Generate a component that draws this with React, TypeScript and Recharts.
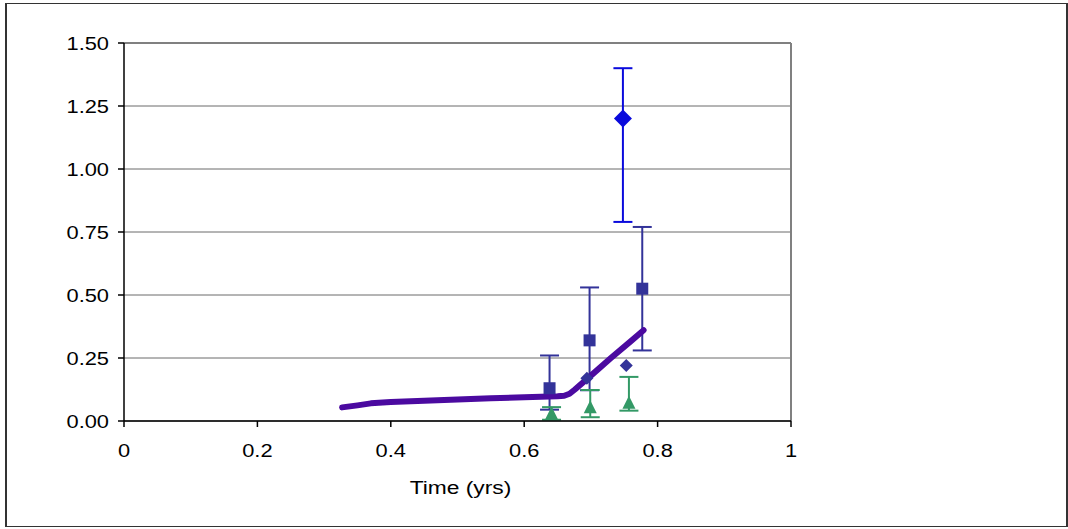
import React from 'react';
import {
  ComposedChart,
  Scatter,
  XAxis,
  YAxis,
  CartesianGrid,
  ErrorBar,
  ReferenceLine,
} from 'recharts';

// x ticks and y ticks as printed on the axes
const xTicks = [0, 0.2, 0.4, 0.6, 0.8, 1];
const yTicks = [0, 0.25, 0.5, 0.75, 1.0, 1.25, 1.5];

// model curve (thick purple line)
const curveX = [0.327, 0.35, 0.37, 0.4, 0.45, 0.5, 0.55, 0.6, 0.65, 0.66, 0.668, 0.676, 0.7, 0.73, 0.76, 0.779];
const curveY = [0.054, 0.062, 0.07, 0.075, 0.08, 0.085, 0.09, 0.094, 0.098, 0.1, 0.108, 0.125, 0.18, 0.25, 0.317, 0.36];

// large blue diamond with error bar
const bigDiamondX = [0.748];
const bigDiamondY = [1.2];
const bigDiamondLow = [0.79];
const bigDiamondHigh = [1.4];

// navy squares with error bars
const squareX = [0.638, 0.698, 0.777];
const squareY = [0.13, 0.32, 0.525];
const squareLow = [0.045, 0.122, 0.28];
const squareHigh = [0.26, 0.53, 0.77];

// small navy diamonds
const smallDiamondX = [0.694, 0.753];
const smallDiamondY = [0.17, 0.22];

// green triangles with error bars
const triangleX = [0.641, 0.699, 0.757];
const triangleY = [0.03, 0.055, 0.072];
const triangleLow = [0.005, 0.015, 0.041];
const triangleHigh = [0.055, 0.123, 0.175];

const withErr = (xs: number[], ys: number[], lo?: number[], hi?: number[]) =>
  xs.map((x, i) => ({
    x,
    y: ys[i],
    err: lo && hi ? [ys[i] - lo[i], hi[i] - ys[i]] : undefined,
  }));

const curveData = withErr(curveX, curveY);
const bigDiamondData = withErr(bigDiamondX, bigDiamondY, bigDiamondLow, bigDiamondHigh);
const squareData = withErr(squareX, squareY, squareLow, squareHigh);
const smallDiamondData = withErr(smallDiamondX, smallDiamondY);
const triangleData = withErr(triangleX, triangleY, triangleLow, triangleHigh);

const BLUE = '#0A0ADC';
const NAVY = '#333399';
const GREEN = '#339966';
const PURPLE = '#4B0AA0';

const FONT = '"Liberation Sans", Arial, sans-serif';
const FONT_SIZE = 19;
const STRETCH = 1.15; // the original text is a little wider than plain Arial

const Diamond = (r: number, fill: string) => (props: any) => {
  const { cx, cy } = props;
  return (
    <polygon
      points={`${cx},${cy - r} ${cx + r},${cy} ${cx},${cy + r} ${cx - r},${cy}`}
      fill={fill}
    />
  );
};

const Square = (props: any) => {
  const { cx, cy } = props;
  return <rect x={cx - 6} y={cy - 6} width={12} height={12} fill={NAVY} />;
};

const Triangle = (props: any) => {
  const { cx, cy } = props;
  return (
    <polygon points={`${cx},${cy - 7} ${cx + 6.5},${cy + 6} ${cx - 6.5},${cy + 6}`} fill={GREEN} />
  );
};

const NoDot = () => <g />;

const XTick = (props: any) => {
  const { x, y, payload } = props;
  return (
    <g transform={`translate(${x},${y})`}>
      <text
        transform={`scale(${STRETCH},1)`}
        textAnchor="middle"
        dy="0.71em"
        fontFamily={FONT}
        fontSize={FONT_SIZE}
        fill="#000"
      >
        {String(payload.value)}
      </text>
    </g>
  );
};

const YTick = (props: any) => {
  const { x, y, payload } = props;
  return (
    <g transform={`translate(${x},${y})`}>
      <text
        transform={`scale(${STRETCH},1)`}
        textAnchor="end"
        dy="0.355em"
        fontFamily={FONT}
        fontSize={FONT_SIZE}
        fill="#000"
      >
        {Number(payload.value).toFixed(2)}
      </text>
    </g>
  );
};

const XTitle = (props: any) => {
  const { viewBox } = props;
  const cx = viewBox.x + viewBox.width / 2 + 3;
  const cy = viewBox.y + 73;
  return (
    <g transform={`translate(${cx},${cy})`}>
      <text
        transform={`scale(1.2,1)`}
        textAnchor="middle"
        fontFamily={FONT}
        fontSize={FONT_SIZE}
        fill="#000"
      >
        Time (yrs)
      </text>
    </g>
  );
};

export default function App() {
  return (
    <div style={{ position: 'absolute', left: 0, top: 0, width: 1068, height: 529, background: '#fff' }}>
      <div
        style={{
          position: 'absolute',
          left: 5,
          top: 3,
          width: 1059,
          height: 522,
          border: '1px solid #333',
          borderLeftWidth: 2,
          borderRightWidth: 2,
        }}
      />
      <div style={{ position: 'absolute', left: 0, top: 0 }}>
        <ComposedChart width={1068} height={529} margin={{ top: 43, right: 277, bottom: 38, left: 0 }}>
          <CartesianGrid vertical={false} stroke="#6a6a6a" strokeWidth={1} />
          <XAxis
            type="number"
            dataKey="x"
            domain={[0, 1]}
            ticks={xTicks}
            stroke="#000"
            strokeWidth={1.5}
            tick={<XTick />}
            tickMargin={17}
            height={70}
            label={{ content: XTitle }}
            allowDataOverflow
          />
          <YAxis
            type="number"
            dataKey="y"
            domain={[0, 1.5]}
            ticks={yTicks}
            stroke="#000"
            strokeWidth={1.5}
            tick={<YTick />}
            tickMargin={9}
            width={124}
            allowDataOverflow
          />
          <ReferenceLine x={1} stroke="#808080" strokeWidth={2} />
          <ReferenceLine y={1.5} stroke="#808080" strokeWidth={2} />
          <Scatter
            data={curveData}
            line={{ stroke: PURPLE, strokeWidth: 6, strokeLinecap: 'round', strokeLinejoin: 'round' }}
            shape={NoDot}
            isAnimationActive={false}
          />
          <Scatter data={squareData} shape={Square} isAnimationActive={false}>
            <ErrorBar dataKey="err" direction="y" width={9.5} stroke={NAVY} strokeWidth={2} />
          </Scatter>
          <Scatter data={triangleData} shape={Triangle} isAnimationActive={false}>
            <ErrorBar dataKey="err" direction="y" width={9.5} stroke={GREEN} strokeWidth={2} />
          </Scatter>
          <Scatter data={smallDiamondData} shape={Diamond(6.5, NAVY)} isAnimationActive={false} />
          <Scatter data={bigDiamondData} shape={Diamond(9, BLUE)} isAnimationActive={false}>
            <ErrorBar dataKey="err" direction="y" width={9.5} stroke={BLUE} strokeWidth={2} />
          </Scatter>
        </ComposedChart>
      </div>
    </div>
  );
}
